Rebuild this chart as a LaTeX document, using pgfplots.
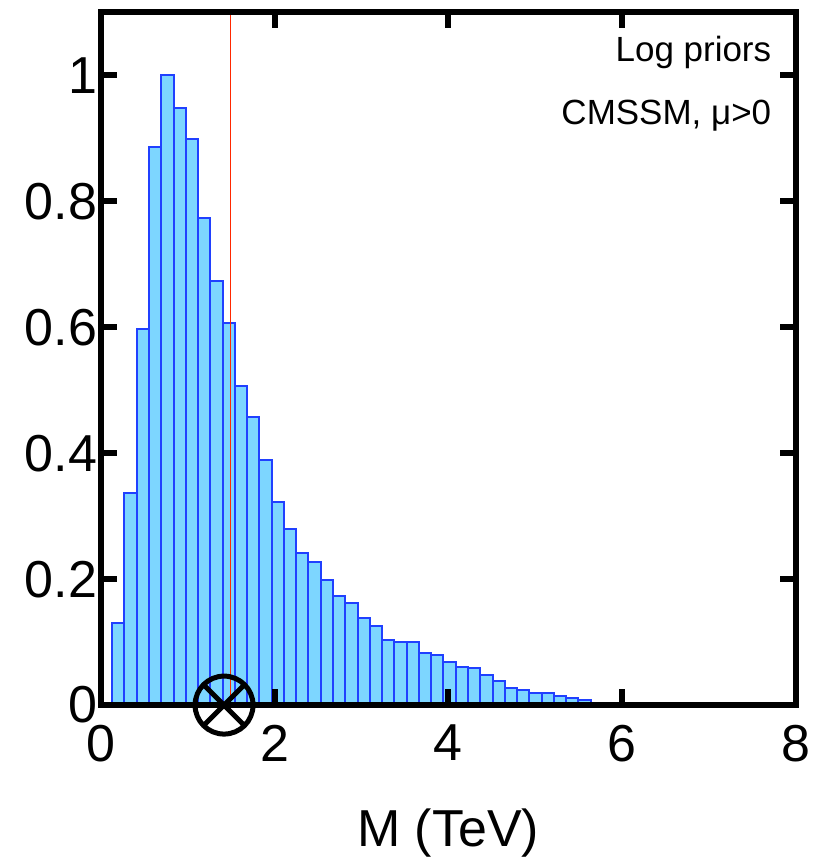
\documentclass[border=0pt]{standalone}
\usepackage{fontspec}
\setmainfont{Liberation Sans}
\usepackage{pgfplots}
\usepackage{pgfplotstable}
\pgfplotsset{compat=1.18}
\definecolor{barfill}{RGB}{125,214,255}
\definecolor{baredge}{RGB}{32,64,255}
\definecolor{meanred}{RGB}{255,40,0}

% left bin edge, normalised height (last row = right edge of last bin)
\pgfplotstableread{
left h
0.130 0.131
0.271 0.337
0.413 0.598
0.554 0.886
0.695 1.000
0.836 0.948
0.978 0.899
1.119 0.773
1.260 0.674
1.402 0.607
1.543 0.506
1.684 0.457
1.825 0.390
1.967 0.322
2.108 0.280
2.249 0.242
2.390 0.227
2.532 0.199
2.673 0.174
2.814 0.162
2.956 0.138
3.097 0.125
3.238 0.103
3.379 0.100
3.521 0.100
3.662 0.082
3.803 0.079
3.945 0.069
4.086 0.060
4.227 0.059
4.368 0.048
4.510 0.038
4.651 0.027
4.792 0.024
4.934 0.020
5.075 0.020
5.216 0.015
5.357 0.012
5.499 0.008
5.640 0.008
}\histdata

\begin{document}
\begin{tikzpicture}
% page margins around the axis box, as in the reference
\useasboundingbox (-50.5pt,-78.5pt) rectangle (356.5pt,352.75pt);
\begin{axis}[
  scale only axis,
  width=347.5pt, height=346.5pt,
  xmin=0, xmax=8, ymin=0, ymax=1.1,
  xtick={0,2,4,6,8},
  ytick={0,0.2,0.4,0.6,0.8,1},
  tick align=inside,
  major tick length=8pt,
  axis line style={line width=3pt},
  tick style={line width=3pt, black},
  ticklabel style={font=\fontsize{26}{28}\selectfont, inner sep=0pt},
  xticklabel style={yshift=-9.8pt},
  yticklabel style={xshift=-1.8pt, /pgf/number format/fixed, /pgf/number format/precision=1},
  /pgf/number format/assume math mode=true,
  xlabel={M (TeV)},
  xlabel style={font=\fontsize{26}{28}\selectfont, at={(axis description cs:0.5,0)}, anchor=base, yshift=-70.8pt},
  clip=false,
  axis on top,
]
\addplot[ybar interval, fill=barfill, draw=baredge, line width=1pt] table[x=left, y=h] {\histdata};
\addplot[only marks, mark=otimes, mark size=14.5pt,
  mark options={line width=2.5pt, draw=black, fill=none}] coordinates {(1.418,0)};
\addplot[meanred, line width=0.8pt] coordinates {(1.49,-0.016) (1.49,1.1)};
\node[anchor=base east, inner sep=0pt, font=\fontsize{17.5}{19}\selectfont] at (axis cs:7.724,1.022) {Log priors};
\node[anchor=base east, inner sep=0pt, font=\fontsize{17.5}{19}\selectfont] at (axis cs:7.724,0.922) {CMSSM, μ>0};
\end{axis}
\end{tikzpicture}
\end{document}
